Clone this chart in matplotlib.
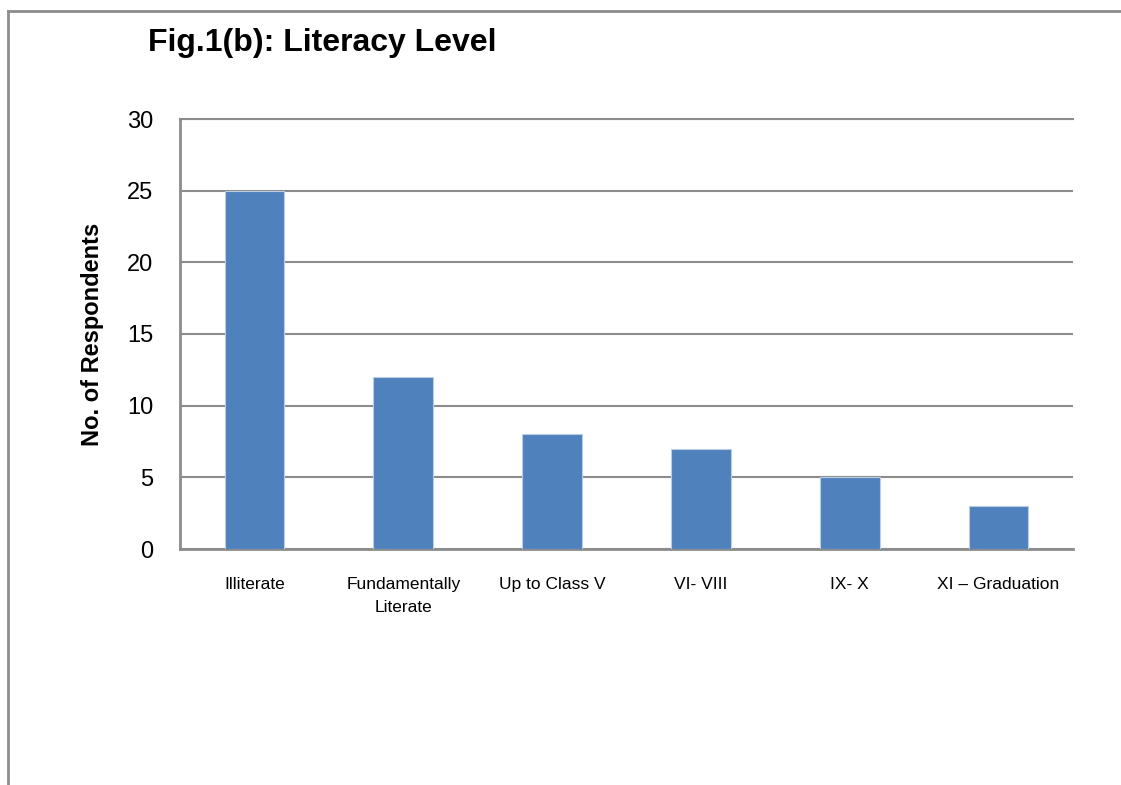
import matplotlib
matplotlib.use("Agg")
import matplotlib.pyplot as plt
from matplotlib import font_manager
from matplotlib.lines import Line2D

categories = ["Illiterate", "Fundamentally\nLiterate", "Up to Class V", "VI- VIII", "IX- X", "XI \u2013 Graduation"]
respondents = [25, 12, 8, 7, 5, 3]
y_ticks = [0, 5, 10, 15, 20, 25, 30]

installed = {f.name for f in font_manager.fontManager.ttflist}
family = "Liberation Sans Narrow" if "Liberation Sans Narrow" in installed else "Liberation Sans"
plt.rcParams["font.family"] = [family, "DejaVu Sans"]

W, H = 1121, 785
fig = plt.figure(figsize=(W / 100, H / 100), dpi=100)
fig.patch.set_facecolor("white")

# Outer frame (left and top edges)
frame_color = "#8c8c8c"
fig.add_artist(Line2D([8 / W, 8 / W], [0, 1 - 11 / H], transform=fig.transFigure,
                      color=frame_color, lw=2))
fig.add_artist(Line2D([8 / W, 1], [1 - 11 / H, 1 - 11 / H], transform=fig.transFigure,
                      color=frame_color, lw=2))

ax = fig.add_axes([180 / W, 1 - 549 / H, (1073 - 180) / W, (549 - 119) / H])

x = list(range(len(categories)))
ax.bar(x, respondents, width=0.4, color="#4F81BD", edgecolor="#b9cde5", linewidth=0.8, zorder=3)

ax.set_xlim(-0.5, len(categories) - 0.5)
ax.set_ylim(0, 30)
ax.set_yticks(y_ticks)
ax.set_yticklabels([str(v) for v in y_ticks], fontsize=17)
ax.set_xticks(x)
ax.set_xticklabels(categories, fontsize=12.5, linespacing=1.65)
ax.tick_params(axis="y", length=0, pad=19)
ax.tick_params(axis="x", length=0, pad=20)

ax.grid(axis="y", color="#8c8c8c", linewidth=1.5, zorder=0)
ax.spines["right"].set_visible(False)
ax.spines["top"].set_color("#8c8c8c")
ax.spines["top"].set_linewidth(1.5)
for side in ["left", "bottom"]:
    ax.spines[side].set_color("#8c8c8c")
    ax.spines[side].set_linewidth(2)

ax.set_ylabel("No. of Respondents", fontsize=17, fontweight="bold", labelpad=17)

fig.text(322 / W, 1 - 43 / H, "Fig.1(b): Literacy Level", fontsize=23, fontweight="bold",
         ha="center", va="center")

fig.savefig("out.png", dpi=100)
